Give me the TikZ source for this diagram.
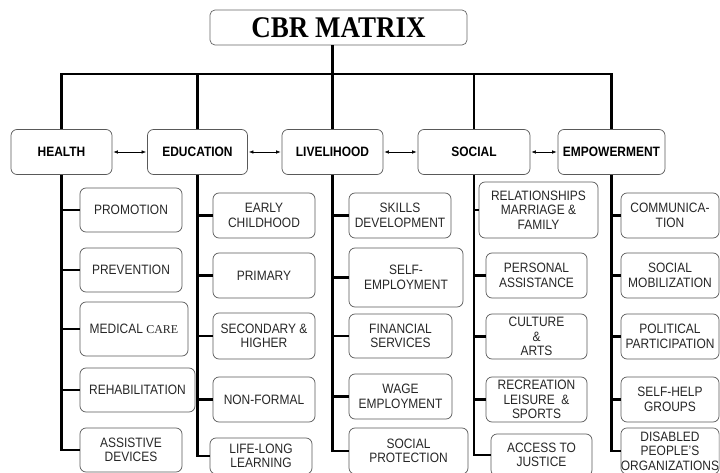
\documentclass[tikz,border=0pt]{standalone}
\usepackage{fontspec}
\setmainfont[FakeStretch=0.88]{Liberation Sans}
\newfontfamily\timesfont{Liberation Serif}
\newfontfamily\timesnarrow[FakeStretch=0.9]{Liberation Serif}
\usetikzlibrary{arrows.meta}
\begin{document}
\begin{tikzpicture}[x=1pt,y=-1pt,
  titlebox/.style={draw=black!60,line width=0.7pt,rounded corners=5pt,minimum width=257pt,minimum height=35pt,font=\timesnarrow\bfseries\fontsize{30}{32}\selectfont},
  catbox/.style={draw=black!65,line width=0.7pt,rounded corners=6pt,minimum height=45pt,inner sep=0pt,font=\bfseries\fontsize{13.6}{14}\selectfont},
  itembox/.style={draw=black!65,line width=0.7pt,rounded corners=6pt,inner sep=0pt,align=center,text=black!85,font=\fontsize{13.6}{14.5}\selectfont},
  trunk/.style={line width=2.6pt},
  link/.style={<->,>={Latex[length=4.5pt,width=3.5pt]},line width=0.6pt,shorten <=1pt,shorten >=1pt}]
\useasboundingbox (0,0) rectangle (720,473);
\node[titlebox] (root) at (338.5,27.5) {CBR MATRIX};
\coordinate (bar) at (0,74);
\node[catbox,minimum width=101pt] (health) at (61.5,152) {HEALTH};
\node[catbox,minimum width=100pt] (education) at (197.5,152) {EDUCATION};
\node[catbox,minimum width=101pt] (livelihood) at (332.5,152) {LIVELIHOOD};
\node[catbox,minimum width=112pt] (social) at (474,152) {SOCIAL};
\node[catbox,minimum width=107pt] (empowerment) at (611.5,152) {EMPOWERMENT};
% health
\foreach \i/\x/\y/\w/\h/\txt in {1/131/210/102/44/PROMOTION,2/131/270/102/44/PREVENTION,
  3/134/329/108/54/{MEDICAL {\timesfont\fontsize{12}{14}\selectfont CARE}},4/137.5/390/115/44/REHABILITATION,5/131/450/102/44/{ASSISTIVE\\DEVICES}}
  \node[itembox,minimum width=\w pt,minimum height=\h pt] (hl\i) at (\x,\y) {\txt};
% education
\foreach \i/\x/\y/\w/\h/\txt in {1/264/215.5/102/45/{EARLY\\CHILDHOOD},2/264/275.5/102/45/PRIMARY,
  3/264/336/102/46/{SECONDARY \&\\HIGHER},4/264/399.5/102/45/NON-FORMAL,5/261/456/102/36/{LIFE-LONG\\LEARNING}}
  \node[itembox,minimum width=\w pt,minimum height=\h pt] (ed\i) at (\x,\y) {\txt};
% livelihood
\foreach \i/\x/\y/\w/\h/\txt in {1/400/215.5/102/45/{SKILLS\\DEVELOPMENT},2/406/277.5/114/59/{SELF-\\EMPLOYMENT},
  3/400.5/336/103/44/{FINANCIAL\\SERVICES},4/400.5/396.5/103/45/{WAGE\\EMPLOYMENT},5/408.5/451/119/46/{SOCIAL\\PROTECTION}}
  \node[itembox,minimum width=\w pt,minimum height=\h pt] (lv\i) at (\x,\y) {\txt};
% social
\foreach \i/\x/\y/\w/\h/\txt in {1/538.5/210/119/56/{RELATIONSHIPS\\MARRIAGE \&\\FAMILY},2/536.5/275.5/101/45/{PERSONAL\\ASSISTANCE},
  3/536.5/336.5/101/45/{CULTURE\\\&\\ARTS},4/536.5/399.5/101/45/{RECREATION\\LEISURE \ \&\\SPORTS},5/541.5/455/101/42/{ACCESS TO\\JUSTICE}}
  \node[itembox,minimum width=\w pt,minimum height=\h pt] (so\i) at (\x,\y) {\txt};
% empowerment
\foreach \i/\x/\y/\w/\h/\txt in {1/670/215.5/98/45/{COMMUNICA-\\TION},2/670/275.5/98/45/{SOCIAL\\MOBILIZATION},
  3/670/336.5/98/45/{POLITICAL\\PARTICIPATION},4/670/399.5/98/45/{SELF-HELP\\GROUPS},5/670/451/98/46/{DISABLED\\PEOPLE'S\\ORGANIZATIONS}}
  \node[itembox,minimum width=\w pt,minimum height=\h pt] (em\i) at (\x,\y) {\txt};
% tree
\draw[trunk] (root.south-|livelihood) -- (livelihood|-bar);
\draw[trunk] (health.north) -- (health|-bar) -- (empowerment|-bar) -- (empowerment.north);
\foreach \c in {education,livelihood,social}
  \draw[trunk] (\c|-bar) -- (\c.north);
\foreach \c/\k in {health/hl,education/ed,livelihood/lv,social/so,empowerment/em}{
  \draw[trunk] (\c.south) |- (\k5.west);
  \foreach \i in {1,...,4}
    \draw[trunk] (\c|-\k\i.west) -- (\k\i.west);
}
\foreach \a/\b in {health/education,education/livelihood,livelihood/social,social/empowerment}
  \draw[link] (\a) -- (\b);
\end{tikzpicture}
\end{document}
